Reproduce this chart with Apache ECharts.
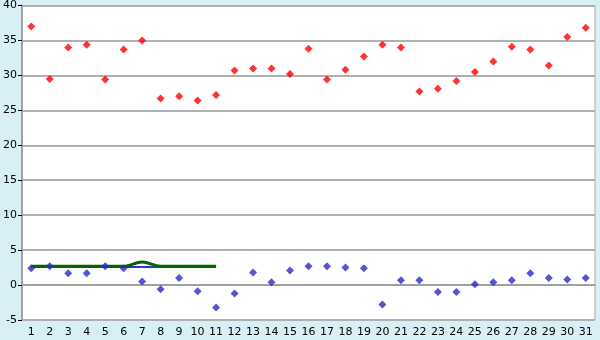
<!DOCTYPE html>
<html><head><meta charset="utf-8">
<script src="https://cdn.jsdelivr.net/npm/echarts@6/dist/echarts.min.js"></script>
<style>html,body{margin:0;padding:0;background:#d9eff6;}#c{width:600px;height:340px;}</style>
</head><body><div id="c"></div>
<script>
const days = ['1','2','3','4','5','6','7','8','9','10','11','12','13','14','15','16','17','18','19','20','21','22','23','24','25','26','27','28','29','30','31'];
const highVals = [37.0,29.5,34.0,34.4,29.4,33.7,35.0,26.7,27.0,26.4,27.2,30.7,31.0,31.0,30.2,33.8,29.4,30.8,32.7,34.4,34.0,27.7,28.1,29.2,30.5,32.0,34.1,33.7,31.4,35.5,36.8];
const lowVals = [2.4,2.7,1.7,1.7,2.7,2.4,0.5,-0.6,1.0,-0.9,-3.2,-1.2,1.8,0.4,2.1,2.7,2.7,2.5,2.4,-2.8,0.7,0.7,-1.0,-1.0,0.1,0.4,0.7,1.7,1.0,0.8,1.0];
const blueLine = [2.6,2.6,2.6,2.6,2.6,2.6,2.6,2.6,2.6,2.6,2.6];
const greenLine = [2.7,2.7,2.7,2.7,2.7,2.7,3.3,2.7,2.7,2.7,2.7];
const yTicks = {min:-5, max:40, interval:5};

const chart = echarts.init(document.getElementById('c'));
const font = 'DejaVu Sans';
chart.setOption({
  backgroundColor:'#d9eff6',
  animation:false,
  grid:{left:20,right:5,top:5,bottom:20,show:true,backgroundColor:'#ffffff',borderColor:'#a8a8a8',borderWidth:1},
  xAxis:{type:'category',data:days,boundaryGap:true,
    axisLine:{lineStyle:{color:'#a0a0a0',width:2}},
    axisTick:{alignWithLabel:true,length:5,lineStyle:{color:'#000000'}},
    axisLabel:{color:'#000',fontFamily:font,fontSize:11,margin:7,interval:0},
    splitLine:{show:false}},
  yAxis:{type:'value',min:yTicks.min,max:yTicks.max,interval:yTicks.interval,
    axisLine:{show:true,lineStyle:{color:'#a0a0a0',width:2}},
    axisTick:{show:true,length:4,lineStyle:{color:'#000000'}},
    axisLabel:{color:'#000',fontFamily:font,fontSize:11,margin:5},
    splitLine:{lineStyle:{color:'#b0b0b0',width:2}}},
  series:[
    {type:'line',data:blueLine,symbol:'none',lineStyle:{color:'#3333cc',width:2},z:2},
    {type:'line',data:greenLine,symbol:'none',smooth:0.35,lineStyle:{color:'#006600',width:3},z:3},
    {type:'scatter',data:highVals,symbol:'diamond',symbolSize:8,itemStyle:{color:'#ff0000'},z:4},
    {type:'scatter',data:lowVals,symbol:'diamond',symbolSize:8,itemStyle:{color:'#2b2bc8'},z:4}
  ]
});
</script></body></html>
